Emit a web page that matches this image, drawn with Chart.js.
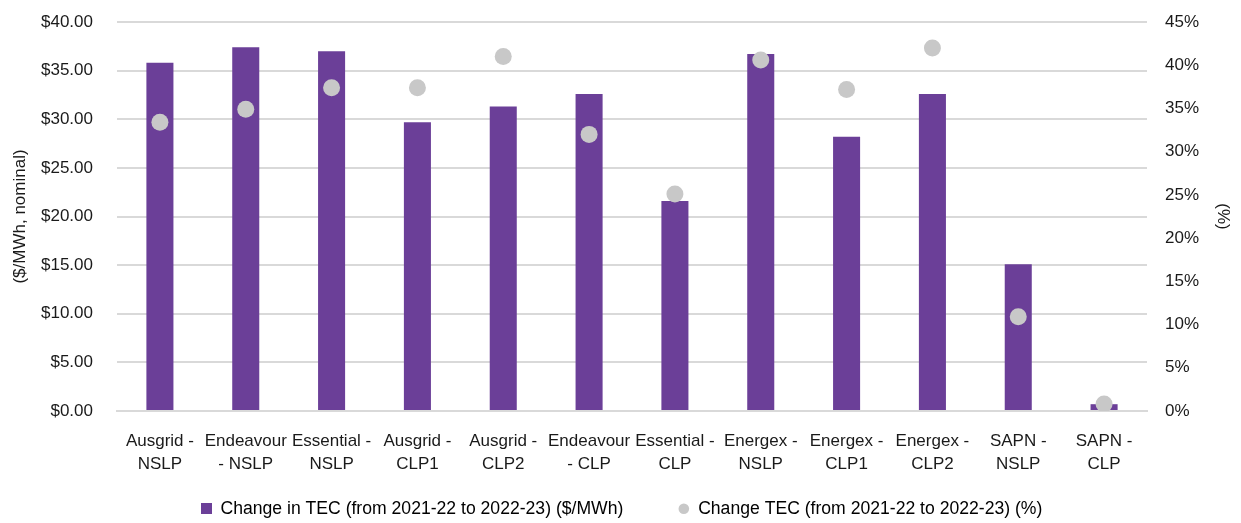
<!DOCTYPE html>
<html>
<head>
<meta charset="utf-8">
<script src="https://cdn.jsdelivr.net/npm/chart.js@4"></script>
<style>
  html, body { margin: 0; padding: 0; background: #fff; }
  #wrap { width: 1241px; height: 523px; }
</style>
</head>
<body>
<div id="wrap"><canvas id="chart"></canvas></div>
<script>
// data
const CATEGORIES = [
    ['Ausgrid -', 'NSLP'], ['Endeavour', '- NSLP'], ['Essential -', 'NSLP'],
    ['Ausgrid -', 'CLP1'], ['Ausgrid -', 'CLP2'], ['Endeavour', '- CLP'],
    ['Essential -', 'CLP'], ['Energex -', 'NSLP'], ['Energex -', 'CLP1'],
    ['Energex -', 'CLP2'], ['SAPN -', 'NSLP'], ['SAPN -', 'CLP']
];
const CHANGE_DOLLARS = [35.8, 37.4, 37.0, 29.7, 31.3, 32.6, 21.6, 36.7, 28.2, 32.6, 15.1, 0.7];
const CHANGE_PERCENT = [33.4, 34.9, 37.4, 37.4, 41.0, 32.0, 25.1, 40.6, 37.2, 42.0, 10.9, 0.8];
const LEGEND_LABELS = [
    'Change in TEC (from 2021-22 to 2022-23) ($/MWh)',
    'Change TEC (from 2021-22 to 2022-23) (%)'
];

const PURPLE = '#6B3F98';
const GREY = '#C8C8C8';
const TEXT = '#1a1a1a';
const GRID = '#d9d9d9';

Chart.defaults.font.family = '"Liberation Sans", Arial, sans-serif';
Chart.defaults.font.size = 17;
Chart.defaults.color = TEXT;

// small square swatch for the bar series legend entry
const squareSwatch = document.createElement('canvas');
squareSwatch.width = 11;
squareSwatch.height = 11;
const sctx = squareSwatch.getContext('2d');
sctx.fillStyle = PURPLE;
sctx.fillRect(0, 0, 11, 11);

// legend padding doubles as the gap between items, so pin the box height
// and pull the row up to where it sits in the reference
const LEGEND_PAD = 55;
const legendPlacement = {
    id: 'legendPlacement',
    afterInit(chart) {
        const legend = chart.legend;
        if (!legend) return;
        const fit = legend.fit;
        legend.fit = function () {
            fit.call(this);
            this.height = 46;
        };
    },
    afterLayout(chart) {
        const legend = chart.legend;
        if (!legend) return;
        legend.top = 500 - LEGEND_PAD;
    }
};

new Chart(document.getElementById('chart'), {
    data: {
        labels: CATEGORIES,
        datasets: [
            {
                type: 'bar',
                label: LEGEND_LABELS[0],
                data: CHANGE_DOLLARS,
                backgroundColor: PURPLE,
                yAxisID: 'y',
                barPercentage: 0.63,
                categoryPercentage: 0.5,
                order: 2
            },
            {
                type: 'line',
                label: LEGEND_LABELS[1],
                data: CHANGE_PERCENT,
                showLine: false,
                pointRadius: 8.5,
                pointHoverRadius: 8.5,
                pointBackgroundColor: GREY,
                pointBorderWidth: 0,
                borderColor: GREY,
                yAxisID: 'y1',
                order: 1
            }
        ]
    },
    options: {
        responsive: true,
        maintainAspectRatio: false,
        animation: false,
        layout: { padding: { top: 22, bottom: 0, left: 10, right: 8 } },
        plugins: {
            tooltip: { enabled: false },
            legend: {
                position: 'bottom',
                labels: {
                    usePointStyle: true,
                    boxWidth: 11,
                    boxHeight: 7.5,
                    padding: LEGEND_PAD,
                    color: TEXT,
                    font: { size: 17.6 },
                    generateLabels: () => [
                        { text: LEGEND_LABELS[0], fillStyle: PURPLE, strokeStyle: PURPLE, lineWidth: 0, pointStyle: squareSwatch, datasetIndex: 0 },
                        { text: LEGEND_LABELS[1], fillStyle: GREY, strokeStyle: GREY, lineWidth: 0, pointStyle: 'circle', datasetIndex: 1 }
                    ]
                }
            }
        },
        scales: {
            x: {
                grid: { display: false, drawTicks: false },
                border: { color: GRID, width: 2 },
                ticks: {
                    maxRotation: 0,
                    autoSkip: false,
                    padding: 19,
                    color: TEXT,
                    font: { lineHeight: 1.35 }
                },
                afterFit: axis => { axis.height = 66; }
            },
            y: {
                position: 'left',
                min: 0,
                max: 40,
                grid: { color: GRID, lineWidth: 2, drawTicks: true, tickLength: 20, tickColor: 'rgba(0,0,0,0)' },
                border: { display: false },
                ticks: {
                    stepSize: 5,
                    padding: 4,
                    color: TEXT,
                    callback: v => '$' + v.toFixed(2)
                },
                title: { display: true, text: '($/MWh, nominal)', color: TEXT, padding: 0 },
                afterFit: axis => { axis.width = 107; }
            },
            y1: {
                position: 'right',
                min: 0,
                max: 45,
                grid: { display: false, drawTicks: true, tickLength: 16, tickColor: 'rgba(0,0,0,0)' },
                border: { display: false },
                ticks: {
                    stepSize: 5,
                    padding: 2,
                    color: TEXT,
                    callback: v => v + '%'
                },
                title: { display: true, text: '(%)', color: TEXT, padding: 0 },
                afterFit: axis => { axis.width = 86; }
            }
        }
    },
    plugins: [legendPlacement]
});
</script>
</body>
</html>
